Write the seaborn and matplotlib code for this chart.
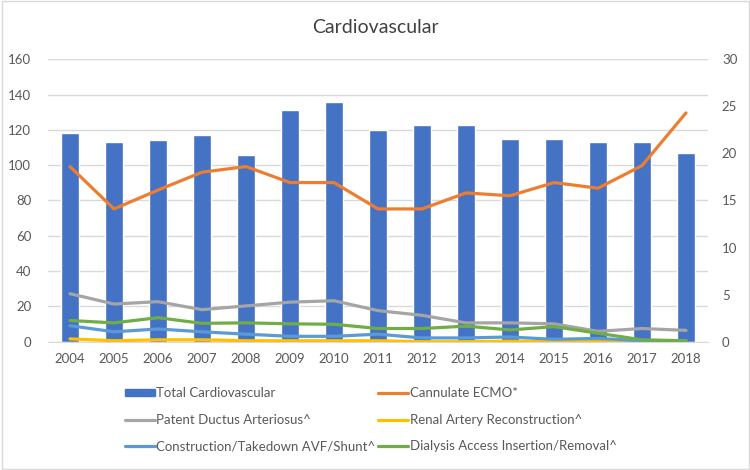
import numpy as np
import pandas as pd
import seaborn as sns
import matplotlib
matplotlib.use("Agg")
import matplotlib.pyplot as plt
from matplotlib.patches import Rectangle
from matplotlib.lines import Line2D

years = [str(y) for y in range(2004, 2019)]
total_cardio = [118, 113, 114, 117, 106, 131, 136, 120, 123, 123, 115, 115, 113, 113, 107]
# line series are on the secondary (right) axis
ecmo = [18.6, 14.1, 16.1, 18.0, 18.6, 16.9, 16.9, 14.1, 14.1, 15.8, 15.5, 16.9, 16.3, 18.7, 24.3]
pda = [5.1, 4.0, 4.25, 3.4, 3.8, 4.2, 4.35, 3.3, 2.8, 2.0, 2.0, 1.9, 1.1, 1.4, 1.2]
renal = [0.3, 0.1, 0.2, 0.2, 0.1, 0.1, 0.1, 0.1, 0.0, 0.0, 0.05, 0.0, 0.0, 0.0, 0.0]
avf = [1.7, 1.05, 1.35, 1.05, 0.8, 0.57, 0.57, 0.8, 0.4, 0.4, 0.5, 0.25, 0.35, 0.1, 0.1]
dialysis = [2.25, 2.0, 2.55, 1.95, 2.0, 1.9, 1.85, 1.4, 1.4, 1.65, 1.25, 1.6, 0.9, 0.2, 0.1]

line_names = ["Cannulate ECMO*", "Patent Ductus Arteriosus^", "Renal Artery Reconstruction^",
              "Construction/Takedown AVF/Shunt^", "Dialysis Access Insertion/Removal^"]
line_vals = [ecmo, pda, renal, avf, dialysis]
line_colors = ["#ED7D31", "#A5A5A5", "#FFC000", "#5B9BD5", "#70AD47"]
bar_color = "#4472C4"

sns.set_style("white")
plt.rcParams["font.family"] = ["Lato", "DejaVu Sans"]
txt = "#595959"

fig = plt.figure(figsize=(7.5, 4.7), dpi=100)
ax = fig.add_axes([0.064, 0.273, 0.88, 0.601])
ax2 = ax.twinx()

bars = pd.DataFrame({"Year": years, "Total": total_cardio})
sns.barplot(data=bars, x="Year", y="Total", color=bar_color, saturation=1, width=0.39, ax=ax, zorder=2)

lines = pd.DataFrame({"Year": years * len(line_names),
                      "Series": [n for n in line_names for _ in years],
                      "Value": [v for vals in line_vals for v in vals]})
lines["pos"] = lines["Year"].map({y: i for i, y in enumerate(years)})
sns.lineplot(data=lines, x="pos", y="Value", hue="Series", hue_order=line_names,
             palette=line_colors, linewidth=2.3, ax=ax2, legend=False)

ax.set_ylim(0, 160)
ax.set_yticks(range(0, 161, 20))
ax2.set_ylim(0, 30)
ax2.set_yticks(range(0, 31, 5))
ax.set_xlim(-0.5, len(years) - 0.5)
ax2.set_xlim(-0.5, len(years) - 0.5)
ax.yaxis.grid(True, color="#D9D9D9", linewidth=1, zorder=0)
ax.set_axisbelow(True)
for a in (ax, ax2):
    for s in a.spines.values():
        s.set_visible(False)
    a.set_xlabel("")
    a.set_ylabel("")
    a.tick_params(length=0, labelsize=9.5, labelcolor=txt)
ax.spines["bottom"].set_visible(True)
ax.spines["bottom"].set_color("#D9D9D9")
ax.tick_params(axis="y", pad=12)
ax.tick_params(axis="x", pad=8)
ax2.tick_params(axis="y", pad=10)

fig.text(0.5, 0.942, "Cardiovascular", ha="center", va="center", fontsize=14, color="#404040")

handles = [Rectangle((0, 0), 1, 1, color=bar_color),
           Line2D([], [], color=line_colors[1], lw=2.3),
           Line2D([], [], color=line_colors[3], lw=2.3),
           Line2D([], [], color=line_colors[0], lw=2.3),
           Line2D([], [], color=line_colors[2], lw=2.3),
           Line2D([], [], color=line_colors[4], lw=2.3)]
labels = ["Total Cardiovascular", line_names[1], line_names[3],
          line_names[0], line_names[2], line_names[4]]
fig.legend(handles, labels, ncol=2, loc="upper left", bbox_to_anchor=(0.166, 0.176),
           frameon=False, fontsize=9.5, labelcolor=txt, handlelength=2.3,
           handleheight=0.5, handletextpad=0.1, columnspacing=0.2, labelspacing=1.1,
           borderaxespad=0, borderpad=0)

fig.patches.append(Rectangle((0.002, 0.003), 0.996, 0.994, transform=fig.transFigure,
                             fill=False, edgecolor="#D9D9D9", linewidth=1))

fig.savefig("out.png", dpi=100)
